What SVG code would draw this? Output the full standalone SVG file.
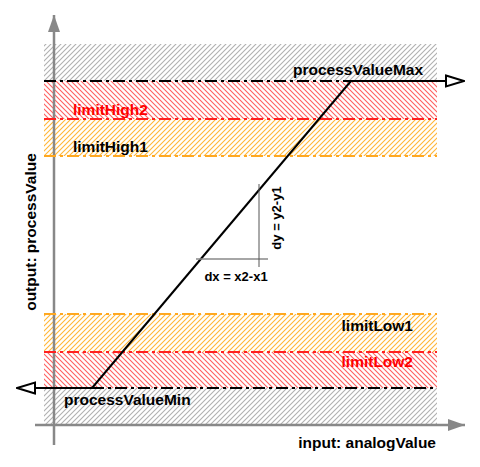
<svg xmlns="http://www.w3.org/2000/svg" width="480" height="467" viewBox="0 0 480 467">
<defs>
<pattern id="hGray" patternUnits="userSpaceOnUse" width="5" height="5">
<path d="M-1,1 L1,-1 M0,5 L5,0 M4,6 L6,4" stroke="#b0b0b0" stroke-width="1.1"/>
</pattern>
<pattern id="hRed" patternUnits="userSpaceOnUse" width="5" height="5">
<path d="M-1,4 L1,6 M0,0 L5,5 M4,-1 L6,1" stroke="#ff6060" stroke-width="1.1"/>
</pattern>
<pattern id="hOrange" patternUnits="userSpaceOnUse" width="5" height="5">
<path d="M-1,1 L1,-1 M0,5 L5,0 M4,6 L6,4" stroke="#ffb638" stroke-width="1.1"/>
</pattern>
<marker id="open" markerWidth="20" markerHeight="14" refX="19" refY="7" orient="auto" markerUnits="userSpaceOnUse">
<path d="M1,1.5 L19,7 L1,12.5 Z" fill="#fff" stroke="#000" stroke-width="2"/>
</marker>
<marker id="axis" markerWidth="18" markerHeight="14" refX="17" refY="7" orient="auto" markerUnits="userSpaceOnUse">
<path d="M0,1 L17,7 L0,13 Z" fill="#888"/>
</marker>
</defs>
<style>
text{font-family:"Liberation Sans",Arial,sans-serif;font-weight:bold;font-size:15.5px;fill:#000}
.red{fill:#ff0000}
.lim{stroke-width:2;stroke-dasharray:12 4 3 4;fill:none}
.small{font-size:13px}
</style>
<g id="bands">
<rect x="44" y="44" width="393" height="37" fill="url(#hGray)"/>
<rect x="44" y="81" width="393" height="38" fill="url(#hRed)"/>
<rect x="44" y="119" width="393" height="37" fill="url(#hOrange)"/>
<rect x="44" y="314" width="393" height="38" fill="url(#hOrange)"/>
<rect x="44" y="352" width="393" height="36" fill="url(#hRed)"/>
<rect x="44" y="388" width="393" height="38" fill="url(#hGray)"/>
</g>
<g id="axes">
<line x1="54" y1="445" x2="54" y2="15" stroke="#888" stroke-width="2.5" marker-end="url(#axis)"/>
<line x1="35" y1="425" x2="465" y2="425" stroke="#888" stroke-width="2.5" marker-end="url(#axis)"/>
</g>
<g id="limits">
<line class="lim" x1="44" y1="81" x2="351" y2="81" stroke="#000"/>
<line class="lim" x1="44" y1="119" x2="437" y2="119" stroke="#ff2020"/>
<line class="lim" x1="44" y1="156" x2="437" y2="156" stroke="#ffa820"/>
<line class="lim" x1="44" y1="314" x2="437" y2="314" stroke="#ffa820"/>
<line class="lim" x1="44" y1="352" x2="437" y2="352" stroke="#ff2020"/>
<line class="lim" x1="92" y1="388" x2="437" y2="388" stroke="#000"/>
</g>
<g id="connectors">
<line x1="351" y1="81" x2="464" y2="81" stroke="#000" stroke-width="2" marker-end="url(#open)"/>
<line x1="92" y1="388" x2="17" y2="388" stroke="#000" stroke-width="2" marker-end="url(#open)"/>
<line x1="351" y1="81" x2="92" y2="388" stroke="#000" stroke-width="2"/>
<line x1="196" y1="259" x2="268" y2="259" stroke="#888" stroke-width="1.5"/>
<line x1="259" y1="184" x2="259" y2="267" stroke="#555" stroke-width="1"/>
</g>
<g id="labels">
<text x="293" y="75">processValueMax</text>
<text x="73" y="115" class="red">limitHigh2</text>
<text x="73" y="152">limitHigh1</text>
<text x="413" y="331" text-anchor="end">limitLow1</text>
<text x="413" y="367" text-anchor="end" class="red">limitLow2</text>
<text x="64" y="405">processValueMin</text>
<text x="436" y="448" text-anchor="end">input: analogValue</text>
<text transform="translate(36,232) rotate(-90)" text-anchor="middle">output: processValue</text>
<text x="236" y="281" text-anchor="middle" class="small">dx = x2-x1</text>
<text transform="translate(281,218) rotate(-90)" text-anchor="middle" class="small">dy = y2-y1</text>
</g>
</svg>
